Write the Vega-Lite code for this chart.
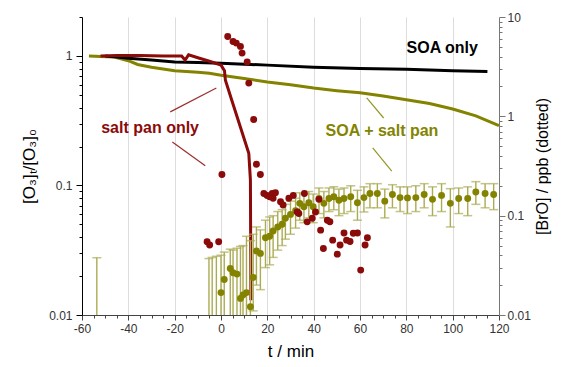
{
  "$schema": "https://vega.github.io/schema/vega-lite/v6.json",
  "width": 417,
  "height": 298,
  "autosize": {"type": "none"},
  "padding": {"left": 82, "top": 17, "right": 65, "bottom": 52},
  "config": {"view": {"stroke": null}, "font": "Liberation Sans"},
  "datasets": {
    "o3": [
      {"s": "SOA + salt pan", "t": -57, "v": 1.0},
      {"s": "SOA + salt pan", "t": -52, "v": 0.99},
      {"s": "SOA + salt pan", "t": -46, "v": 0.98},
      {"s": "SOA + salt pan", "t": -40, "v": 0.92},
      {"s": "SOA + salt pan", "t": -36, "v": 0.86},
      {"s": "SOA + salt pan", "t": -30, "v": 0.82},
      {"s": "SOA + salt pan", "t": -20, "v": 0.77},
      {"s": "SOA + salt pan", "t": -10, "v": 0.75},
      {"s": "SOA + salt pan", "t": -5, "v": 0.735},
      {"s": "SOA + salt pan", "t": 0, "v": 0.71},
      {"s": "SOA + salt pan", "t": 10, "v": 0.67},
      {"s": "SOA + salt pan", "t": 20, "v": 0.63},
      {"s": "SOA + salt pan", "t": 30, "v": 0.6},
      {"s": "SOA + salt pan", "t": 40, "v": 0.565},
      {"s": "SOA + salt pan", "t": 50, "v": 0.54},
      {"s": "SOA + salt pan", "t": 60, "v": 0.52},
      {"s": "SOA + salt pan", "t": 70, "v": 0.49},
      {"s": "SOA + salt pan", "t": 80, "v": 0.46},
      {"s": "SOA + salt pan", "t": 90, "v": 0.43},
      {"s": "SOA + salt pan", "t": 100, "v": 0.39},
      {"s": "SOA + salt pan", "t": 110, "v": 0.345},
      {"s": "SOA + salt pan", "t": 120, "v": 0.29},
      {"s": "SOA only", "t": -50, "v": 1.0},
      {"s": "SOA only", "t": -45, "v": 0.98},
      {"s": "SOA only", "t": -40, "v": 0.96},
      {"s": "SOA only", "t": -30, "v": 0.93},
      {"s": "SOA only", "t": -20, "v": 0.9},
      {"s": "SOA only", "t": -10, "v": 0.89},
      {"s": "SOA only", "t": 0, "v": 0.88},
      {"s": "SOA only", "t": 20, "v": 0.85},
      {"s": "SOA only", "t": 40, "v": 0.82},
      {"s": "SOA only", "t": 60, "v": 0.8},
      {"s": "SOA only", "t": 80, "v": 0.79},
      {"s": "SOA only", "t": 100, "v": 0.77},
      {"s": "SOA only", "t": 115, "v": 0.76},
      {"s": "salt pan only", "t": -52, "v": 1.0},
      {"s": "salt pan only", "t": -45, "v": 1.01},
      {"s": "salt pan only", "t": -35, "v": 1.01},
      {"s": "salt pan only", "t": -25, "v": 1.0},
      {"s": "salt pan only", "t": -17, "v": 1.0},
      {"s": "salt pan only", "t": -15.5, "v": 0.93},
      {"s": "salt pan only", "t": -14, "v": 1.02},
      {"s": "salt pan only", "t": -10, "v": 0.97},
      {"s": "salt pan only", "t": -5, "v": 0.91},
      {"s": "salt pan only", "t": 0, "v": 0.85},
      {"s": "salt pan only", "t": 1.5, "v": 0.77},
      {"s": "salt pan only", "t": 1.9, "v": 0.65},
      {"s": "salt pan only", "t": 5, "v": 0.436},
      {"s": "salt pan only", "t": 8.5, "v": 0.278},
      {"s": "salt pan only", "t": 12, "v": 0.177},
      {"s": "salt pan only", "t": 12.7, "v": 0.11},
      {"s": "salt pan only", "t": 12.9, "v": 0.013}
    ],
    "notes": [
      {"s": "SOA only", "t": 95.5, "v": 1.15, "label": "SOA only"},
      {"s": "salt pan only", "t": -30.6, "v": 0.278, "label": "salt pan only"},
      {"s": "SOA + salt pan", "t": 69.5, "v": 0.264, "label": "SOA + salt pan"}
    ],
    "pointers": [
      {"s": "salt pan only", "t": -21.9, "v": 0.37, "t2": -2, "v2": 0.566},
      {"s": "salt pan only", "t": -21, "v": 0.217, "t2": -6.8, "v2": 0.142},
      {"s": "SOA + salt pan", "t": 62.9, "v": 0.474, "t2": 70.2, "v2": 0.332},
      {"s": "SOA + salt pan", "t": 65.5, "v": 0.195, "t2": 73.7, "v2": 0.129}
    ],
    "bro_olive": [
      {"t": -53.6, "bro": null, "lo": 0.005, "hi": 0.0377},
      {"t": -5.2, "bro": null, "lo": 0.005, "hi": 0.037},
      {"t": -3.8, "bro": null, "lo": 0.005, "hi": 0.038},
      {"t": -2.0, "bro": null, "lo": 0.005, "hi": 0.039},
      {"t": 0.0, "bro": 0.0168, "lo": 0.005, "hi": 0.04},
      {"t": 1.4, "bro": 0.0228, "lo": 0.005, "hi": 0.043},
      {"t": 4.0, "bro": 0.0294, "lo": 0.005, "hi": 0.046},
      {"t": 5.2, "bro": 0.0266, "lo": 0.005, "hi": 0.045},
      {"t": 6.9, "bro": 0.0258, "lo": 0.005, "hi": 0.047},
      {"t": 8.4, "bro": 0.0147, "lo": 0.005, "hi": 0.049},
      {"t": 9.5, "bro": 0.0159, "lo": 0.005, "hi": 0.05},
      {"t": 11.0, "bro": 0.0168, "lo": 0.005, "hi": 0.062},
      {"t": 12.7, "bro": 0.0121, "lo": 0.005, "hi": 0.056},
      {"t": 13.9, "bro": 0.0239, "lo": 0.011, "hi": 0.065},
      {"t": 15.3, "bro": 0.0442, "lo": 0.02, "hi": 0.077},
      {"t": 17.0, "bro": 0.0417, "lo": 0.018, "hi": 0.072},
      {"t": 19.2, "bro": 0.06, "lo": 0.03, "hi": 0.09},
      {"t": 21.0, "bro": 0.062, "lo": 0.032, "hi": 0.097},
      {"t": 22.5, "bro": 0.07, "lo": 0.038, "hi": 0.1},
      {"t": 24.5, "bro": 0.077, "lo": 0.045, "hi": 0.11},
      {"t": 26.4, "bro": 0.082, "lo": 0.05, "hi": 0.115},
      {"t": 27.8, "bro": 0.094, "lo": 0.058, "hi": 0.13},
      {"t": 30.0, "bro": 0.103, "lo": 0.065, "hi": 0.14},
      {"t": 32.2, "bro": 0.112, "lo": 0.075, "hi": 0.15},
      {"t": 34.0, "bro": 0.133, "lo": 0.09, "hi": 0.17},
      {"t": 35.8, "bro": 0.123, "lo": 0.085, "hi": 0.165},
      {"t": 37.9, "bro": 0.135, "lo": 0.095, "hi": 0.175},
      {"t": 39.8, "bro": 0.123, "lo": 0.085, "hi": 0.165},
      {"t": 42.3, "bro": 0.149, "lo": 0.105, "hi": 0.19},
      {"t": 44.4, "bro": 0.133, "lo": 0.095, "hi": 0.175},
      {"t": 46.6, "bro": 0.149, "lo": 0.11, "hi": 0.19},
      {"t": 48.7, "bro": 0.155, "lo": 0.115, "hi": 0.195},
      {"t": 50.9, "bro": 0.143, "lo": 0.1, "hi": 0.185},
      {"t": 53.1, "bro": 0.149, "lo": 0.105, "hi": 0.19},
      {"t": 56.0, "bro": 0.155, "lo": 0.11, "hi": 0.2},
      {"t": 58.9, "bro": 0.135, "lo": 0.09, "hi": 0.18},
      {"t": 61.7, "bro": 0.152, "lo": 0.109, "hi": 0.195},
      {"t": 64.3, "bro": 0.167, "lo": 0.12, "hi": 0.21},
      {"t": 67.5, "bro": 0.167, "lo": 0.12, "hi": 0.21},
      {"t": 70.7, "bro": 0.14, "lo": 0.095, "hi": 0.185},
      {"t": 74.0, "bro": 0.163, "lo": 0.12, "hi": 0.205},
      {"t": 77.3, "bro": 0.152, "lo": 0.11, "hi": 0.195},
      {"t": 80.5, "bro": 0.151, "lo": 0.105, "hi": 0.195},
      {"t": 84.1, "bro": 0.152, "lo": 0.11, "hi": 0.2},
      {"t": 87.7, "bro": 0.163, "lo": 0.12, "hi": 0.21},
      {"t": 91.3, "bro": 0.146, "lo": 0.1, "hi": 0.195},
      {"t": 95.2, "bro": 0.16, "lo": 0.11, "hi": 0.21},
      {"t": 99.0, "bro": 0.133, "lo": 0.077, "hi": 0.187},
      {"t": 102.6, "bro": 0.149, "lo": 0.105, "hi": 0.19},
      {"t": 106.5, "bro": 0.149, "lo": 0.1, "hi": 0.195},
      {"t": 110.0, "bro": 0.173, "lo": 0.13, "hi": 0.22},
      {"t": 114.0, "bro": 0.167, "lo": 0.12, "hi": 0.21},
      {"t": 117.7, "bro": 0.163, "lo": 0.115, "hi": 0.21}
    ],
    "bro_red": [
      {"t": -6.0, "bro": 0.0546},
      {"t": -4.9, "bro": 0.0506},
      {"t": -1.0, "bro": 0.0546},
      {"t": 0.4, "bro": 0.26},
      {"t": 2.9, "bro": 6.37},
      {"t": 5.2, "bro": 5.67},
      {"t": 6.6, "bro": 5.46},
      {"t": 8.4, "bro": 5.06},
      {"t": 9.1, "bro": 4.33},
      {"t": 11.3, "bro": 3.52},
      {"t": 12.0, "bro": 2.16},
      {"t": 14.1, "bro": 0.93},
      {"t": 15.3, "bro": 0.33},
      {"t": 17.0, "bro": 0.26},
      {"t": 18.5, "bro": 0.167},
      {"t": 19.9, "bro": 0.16},
      {"t": 21.0, "bro": 0.155},
      {"t": 22.1, "bro": 0.167},
      {"t": 22.5, "bro": 0.15},
      {"t": 23.5, "bro": 0.17},
      {"t": 25.7, "bro": 0.138},
      {"t": 26.8, "bro": 0.128},
      {"t": 29.3, "bro": 0.15},
      {"t": 31.2, "bro": 0.16},
      {"t": 32.9, "bro": 0.109},
      {"t": 33.6, "bro": 0.105},
      {"t": 36.0, "bro": 0.167},
      {"t": 37.2, "bro": 0.0866},
      {"t": 39.4, "bro": 0.094},
      {"t": 40.8, "bro": 0.109},
      {"t": 42.3, "bro": 0.146},
      {"t": 43.0, "bro": 0.0715},
      {"t": 44.2, "bro": 0.0467},
      {"t": 45.9, "bro": 0.09},
      {"t": 47.0, "bro": 0.087},
      {"t": 48.2, "bro": 0.0567},
      {"t": 50.2, "bro": 0.041},
      {"t": 51.4, "bro": 0.0506},
      {"t": 53.1, "bro": 0.067},
      {"t": 54.2, "bro": 0.0567},
      {"t": 55.7, "bro": 0.055},
      {"t": 57.1, "bro": 0.0665},
      {"t": 58.9, "bro": 0.067},
      {"t": 60.3, "bro": 0.0283},
      {"t": 62.2, "bro": 0.0506},
      {"t": 63.2, "bro": 0.06}
    ]
  },
  "layer": [
    {
      "encoding": {
        "x": {"field": "t", "type": "quantitative",
          "scale": {"domain": [-60, 120], "nice": false, "zero": false},
          "axis": {
            "values": [-60,-55,-50,-45,-40,-35,-30,-25,-20,-15,-10,-5,0,5,10,15,20,25,30,35,40,45,50,55,60,65,70,75,80,85,90,95,100,105,110,115,120],
            "labelExpr": "datum.value % 20 === 0 ? '' + datum.value : ''",
            "tickSize": {"condition": {"test": "datum.value % 20 === 0", "value": 5}, "value": 3},
            "grid": true,
            "gridColor": "#dddddd",
            "gridOpacity": {"condition": {"test": "datum.value % 20 === 0 && datum.value > -60 && datum.value < 120", "value": 1}, "value": 0},
            "title": "t / min", "titleFontSize": 17, "titleFontWeight": "normal", "titlePadding": 9, "titleColor": "#000",
            "labelFontSize": 12, "labelColor": "#333", "labelFlush": false, "labelOverlap": false, "labelPadding": 3,
            "domainColor": "#444", "tickColor": "#444"
          }
        },
        "y": {"field": "v", "type": "quantitative",
          "scale": {"type": "log", "domain": [0.01, 2], "nice": false},
          "axis": {
            "orient": "left",
            "values": [0.01,0.02,0.03,0.04,0.05,0.06,0.07,0.08,0.09,0.1,0.2,0.3,0.4,0.5,0.6,0.7,0.8,0.9,1,2],
            "labelExpr": "datum.value === 0.01 || datum.value === 0.1 || datum.value === 1 ? '' + datum.value : ''",
            "tickSize": {"condition": {"test": "datum.value === 0.01 || datum.value === 0.1 || datum.value === 1", "value": 6}, "value": 3},
            "grid": false,
            "title": "[O₃]ₜ/[O₃]₀", "titleFontSize": 17, "titleFontWeight": "normal", "titlePadding": 10, "titleColor": "#000",
            "labelFontSize": 12, "labelColor": "#333", "labelOverlap": false, "labelPadding": 4,
            "domainColor": "#000", "tickColor": "#000"
          }
        },
        "color": {"field": "s", "type": "nominal", "legend": null,
          "scale": {"domain": ["SOA only", "salt pan only", "SOA + salt pan"], "range": ["#000000", "#8b0a0a", "#838300"]}}
      },
      "layer": [
        {"data": {"name": "o3"}, "mark": {"type": "line", "strokeWidth": 3, "clip": true}, "encoding": {"detail": {"field": "s"}}},
        {"data": {"name": "pointers"}, "mark": {"type": "rule", "strokeWidth": 1.2, "opacity": 0.85},
          "encoding": {"x2": {"field": "t2"}, "y2": {"field": "v2"}}},
        {"data": {"name": "notes"}, "mark": {"type": "text", "fontSize": 16, "fontWeight": "bold", "align": "center", "baseline": "middle"},
          "encoding": {"text": {"field": "label"}}}
      ]
    },
    {
      "encoding": {
        "x": {"field": "t", "type": "quantitative",
          "scale": {"domain": [-60, 120], "nice": false, "zero": false},
          "axis": {
            "values": [-60,-55,-50,-45,-40,-35,-30,-25,-20,-15,-10,-5,0,5,10,15,20,25,30,35,40,45,50,55,60,65,70,75,80,85,90,95,100,105,110,115,120],
            "labelExpr": "datum.value % 20 === 0 ? '' + datum.value : ''",
            "tickSize": {"condition": {"test": "datum.value % 20 === 0", "value": 5}, "value": 3},
            "grid": true,
            "gridColor": "#dddddd",
            "gridOpacity": {"condition": {"test": "datum.value % 20 === 0 && datum.value > -60 && datum.value < 120", "value": 1}, "value": 0},
            "title": "t / min", "titleFontSize": 17, "titleFontWeight": "normal", "titlePadding": 9, "titleColor": "#000",
            "labelFontSize": 12, "labelColor": "#333", "labelFlush": false, "labelOverlap": false, "labelPadding": 3,
            "domainColor": "#444", "tickColor": "#444"
          }
        }
      },
      "layer": [
        {"data": {"name": "bro_olive"},
          "mark": {"type": "rule", "color": "#abab55", "strokeWidth": 1.4, "clip": true},
          "encoding": {
            "y": {"field": "lo", "type": "quantitative", "scale": {"type": "log", "domain": [0.01, 10], "nice": false},
              "axis": {
                "orient": "right",
                "values": [0.01,0.02,0.03,0.04,0.05,0.06,0.07,0.08,0.09,0.1,0.2,0.3,0.4,0.5,0.6,0.7,0.8,0.9,1,2,3,4,5,6,7,8,9,10],
                "labelExpr": "datum.value === 0.01 || datum.value === 0.1 || datum.value === 1 || datum.value === 10 ? '' + datum.value : ''",
                "tickSize": {"condition": {"test": "datum.value === 0.01 || datum.value === 0.1 || datum.value === 1 || datum.value === 10", "value": 6}, "value": 3},
                "grid": false,
                "title": "[BrO] / ppb (dotted)", "titleFontSize": 16, "titleFontWeight": "normal", "titlePadding": 20, "titleColor": "#000", "titleAngle": 270,
                "labelFontSize": 12, "labelColor": "#333", "labelOverlap": false, "labelPadding": 2,
                "domainColor": "#777", "tickColor": "#777"
              }
            },
            "y2": {"field": "hi"}
          }
        },
        {"data": {"name": "bro_olive"},
          "mark": {"type": "tick", "orient": "horizontal", "color": "#abab55", "size": 9, "thickness": 1.5, "clip": true},
          "encoding": {
            "y": {"field": "hi", "type": "quantitative", "scale": {"type": "log", "domain": [0.01, 10], "nice": false},
              "axis": {
                "orient": "right",
                "values": [0.01,0.02,0.03,0.04,0.05,0.06,0.07,0.08,0.09,0.1,0.2,0.3,0.4,0.5,0.6,0.7,0.8,0.9,1,2,3,4,5,6,7,8,9,10],
                "labelExpr": "datum.value === 0.01 || datum.value === 0.1 || datum.value === 1 || datum.value === 10 ? '' + datum.value : ''",
                "tickSize": {"condition": {"test": "datum.value === 0.01 || datum.value === 0.1 || datum.value === 1 || datum.value === 10", "value": 6}, "value": 3},
                "grid": false,
                "title": "[BrO] / ppb (dotted)", "titleFontSize": 16, "titleFontWeight": "normal", "titlePadding": 20, "titleColor": "#000", "titleAngle": 270,
                "labelFontSize": 12, "labelColor": "#333", "labelOverlap": false, "labelPadding": 2,
                "domainColor": "#777", "tickColor": "#777"
              }
            }
          }
        },
        {"data": {"name": "bro_olive"},
          "transform": [{"filter": "datum.lo > 0.0101"}],
          "mark": {"type": "tick", "orient": "horizontal", "color": "#abab55", "size": 9, "thickness": 1.5, "clip": true},
          "encoding": {
            "y": {"field": "lo", "type": "quantitative", "scale": {"type": "log", "domain": [0.01, 10], "nice": false},
              "axis": {
                "orient": "right",
                "values": [0.01,0.02,0.03,0.04,0.05,0.06,0.07,0.08,0.09,0.1,0.2,0.3,0.4,0.5,0.6,0.7,0.8,0.9,1,2,3,4,5,6,7,8,9,10],
                "labelExpr": "datum.value === 0.01 || datum.value === 0.1 || datum.value === 1 || datum.value === 10 ? '' + datum.value : ''",
                "tickSize": {"condition": {"test": "datum.value === 0.01 || datum.value === 0.1 || datum.value === 1 || datum.value === 10", "value": 6}, "value": 3},
                "grid": false,
                "title": "[BrO] / ppb (dotted)", "titleFontSize": 16, "titleFontWeight": "normal", "titlePadding": 20, "titleColor": "#000", "titleAngle": 270,
                "labelFontSize": 12, "labelColor": "#333", "labelOverlap": false, "labelPadding": 2,
                "domainColor": "#777", "tickColor": "#777"
              }
            }
          }
        },
        {"data": {"name": "bro_olive"},
          "mark": {"type": "circle", "color": "#838300", "size": 48, "opacity": 1, "clip": true},
          "encoding": {
            "y": {"field": "bro", "type": "quantitative", "scale": {"type": "log", "domain": [0.01, 10], "nice": false},
              "axis": {
                "orient": "right",
                "values": [0.01,0.02,0.03,0.04,0.05,0.06,0.07,0.08,0.09,0.1,0.2,0.3,0.4,0.5,0.6,0.7,0.8,0.9,1,2,3,4,5,6,7,8,9,10],
                "labelExpr": "datum.value === 0.01 || datum.value === 0.1 || datum.value === 1 || datum.value === 10 ? '' + datum.value : ''",
                "tickSize": {"condition": {"test": "datum.value === 0.01 || datum.value === 0.1 || datum.value === 1 || datum.value === 10", "value": 6}, "value": 3},
                "grid": false,
                "title": "[BrO] / ppb (dotted)", "titleFontSize": 16, "titleFontWeight": "normal", "titlePadding": 20, "titleColor": "#000", "titleAngle": 270,
                "labelFontSize": 12, "labelColor": "#333", "labelOverlap": false, "labelPadding": 2,
                "domainColor": "#777", "tickColor": "#777"
              }
            }
          }
        },
        {"data": {"name": "bro_red"},
          "mark": {"type": "circle", "color": "#8b0a0a", "size": 48, "opacity": 1, "clip": true},
          "encoding": {
            "y": {"field": "bro", "type": "quantitative", "scale": {"type": "log", "domain": [0.01, 10], "nice": false},
              "axis": {
                "orient": "right",
                "values": [0.01,0.02,0.03,0.04,0.05,0.06,0.07,0.08,0.09,0.1,0.2,0.3,0.4,0.5,0.6,0.7,0.8,0.9,1,2,3,4,5,6,7,8,9,10],
                "labelExpr": "datum.value === 0.01 || datum.value === 0.1 || datum.value === 1 || datum.value === 10 ? '' + datum.value : ''",
                "tickSize": {"condition": {"test": "datum.value === 0.01 || datum.value === 0.1 || datum.value === 1 || datum.value === 10", "value": 6}, "value": 3},
                "grid": false,
                "title": "[BrO] / ppb (dotted)", "titleFontSize": 16, "titleFontWeight": "normal", "titlePadding": 20, "titleColor": "#000", "titleAngle": 270,
                "labelFontSize": 12, "labelColor": "#333", "labelOverlap": false, "labelPadding": 2,
                "domainColor": "#777", "tickColor": "#777"
              }
            }
          }
        }
      ]
    }
  ],
  "resolve": {"scale": {"y": "independent", "color": "independent"}, "axis": {"y": "independent"}}
}
